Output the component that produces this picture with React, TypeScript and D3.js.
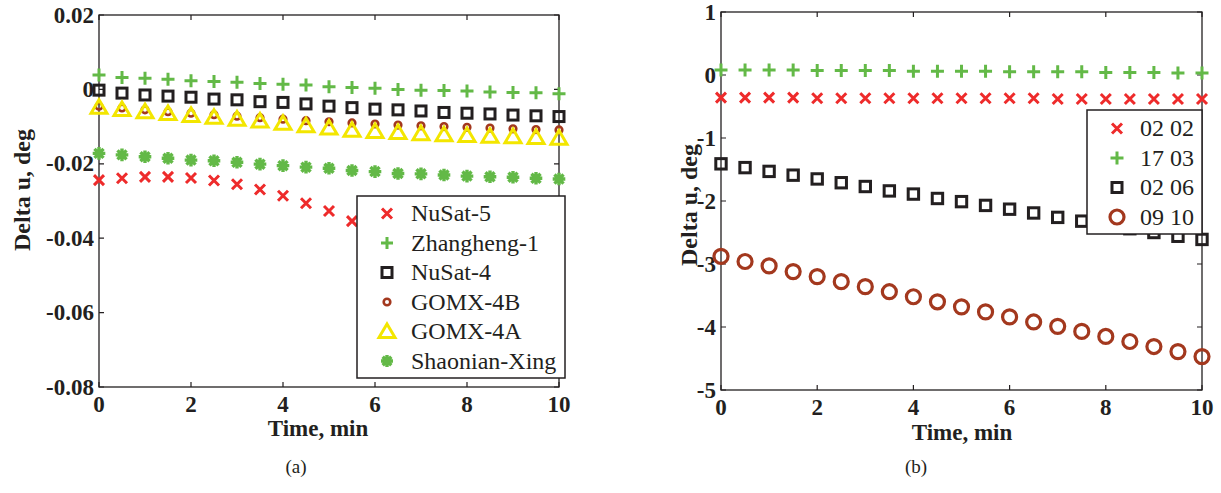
import React, { useEffect, useRef } from 'react';
import * as d3 from 'd3';

// tiempo, min
const time = [0, 0.5, 1, 1.5, 2, 2.5, 3, 3.5, 4, 4.5, 5, 5.5, 6, 6.5, 7, 7.5, 8, 8.5, 9, 9.5, 10];

// (a) Delta u, deg
const nusat5 = [-0.0244, -0.0239, -0.0235, -0.0235, -0.0238, -0.0245, -0.0255, -0.0269, -0.0286, -0.0306, -0.0327, -0.0354, -0.038, -0.041, -0.044, -0.047, -0.05, -0.053, -0.056, -0.059, -0.062];
const zhangheng1 = [0.0039, 0.0032, 0.003, 0.0027, 0.0023, 0.0021, 0.0019, 0.0016, 0.0014, 0.0012, 0.0007, 0.0005, 0.0003, 0.0, -0.0002, -0.0003, -0.0004, -0.0007, -0.0008, -0.0009, -0.0012];
const nusat4 = [-0.0002, -0.001, -0.0015, -0.0018, -0.0021, -0.0026, -0.0028, -0.0033, -0.0035, -0.0039, -0.0045, -0.0049, -0.0053, -0.0055, -0.0058, -0.0062, -0.0064, -0.0066, -0.0069, -0.0071, -0.0073];
const gomx4b = [-0.0045, -0.005, -0.0055, -0.006, -0.0064, -0.0068, -0.0072, -0.0076, -0.008, -0.0084, -0.0087, -0.009, -0.0093, -0.0096, -0.0098, -0.01, -0.0102, -0.0104, -0.0106, -0.0108, -0.0109];
const gomx4a = [-0.0048, -0.0054, -0.006, -0.0065, -0.007, -0.0075, -0.008, -0.0085, -0.0091, -0.0098, -0.0104, -0.011, -0.0113, -0.0116, -0.0119, -0.0122, -0.0124, -0.0126, -0.0127, -0.0129, -0.0131];
const shaonian = [-0.0172, -0.0176, -0.0181, -0.0185, -0.019, -0.0192, -0.0196, -0.0201, -0.0205, -0.0209, -0.0212, -0.0218, -0.0221, -0.0226, -0.0227, -0.023, -0.0233, -0.0235, -0.0236, -0.0239, -0.0241];

// (b) Delta u, deg
const d0202 = [-0.36, -0.36, -0.36, -0.36, -0.37, -0.37, -0.37, -0.37, -0.37, -0.37, -0.37, -0.37, -0.37, -0.37, -0.38, -0.38, -0.38, -0.38, -0.38, -0.38, -0.38];
const d1703 = [0.08, 0.08, 0.08, 0.08, 0.07, 0.07, 0.07, 0.07, 0.06, 0.06, 0.06, 0.06, 0.05, 0.05, 0.05, 0.05, 0.04, 0.04, 0.04, 0.03, 0.03];
const d0206 = [-1.41, -1.47, -1.53, -1.59, -1.65, -1.71, -1.77, -1.84, -1.89, -1.96, -2.01, -2.07, -2.13, -2.19, -2.26, -2.32, -2.38, -2.44, -2.5, -2.56, -2.61];
const d0910 = [-2.88, -2.96, -3.03, -3.12, -3.2, -3.28, -3.36, -3.44, -3.52, -3.6, -3.68, -3.76, -3.84, -3.92, -3.99, -4.07, -4.15, -4.23, -4.31, -4.39, -4.47];

const xTicks = [0, 2, 4, 6, 8, 10];
const yTicksA = [-0.08, -0.06, -0.04, -0.02, 0, 0.02];
const yTickLabelsA = ['-0.08', '-0.06', '-0.04', '-0.02', '0', '0.02'];
const yTicksB = [-5, -4, -3, -2, -1, 0, 1];
const yTickLabelsB = ['-5', '-4', '-3', '-2', '-1', '0', '1'];

const RED = '#ee2b2b';
const GREEN = '#63b947';
const BLACK = '#231f20';
const BROWN = '#a3381e';
const YELLOW = '#f3e600';

const FONT = '"Liberation Serif", "Times New Roman", serif';

// dibuja un marcador centrado en (0,0)
function marker(g, type, color, s) {
  if (type === 'x') {
    g.append('path').attr('d', `M${-s},${-s}L${s},${s}M${-s},${s}L${s},${-s}`)
      .attr('stroke', color).attr('stroke-width', 3).attr('fill', 'none');
  } else if (type === '+') {
    g.append('path').attr('d', `M${-s},0H${s}M0,${-s}V${s}`)
      .attr('stroke', color).attr('stroke-width', 3).attr('fill', 'none');
  } else if (type === 's') {
    g.append('rect').attr('x', -s).attr('y', -s).attr('width', 2 * s).attr('height', 2 * s)
      .attr('stroke', color).attr('stroke-width', 3).attr('fill', 'none');
  } else if (type === 'o') {
    g.append('circle').attr('r', s).attr('stroke', color).attr('stroke-width', s > 5 ? 3.2 : 2.6).attr('fill', 'none');
  } else if (type === '^') {
    g.append('path').attr('d', `M0,${-s * 0.95}L${s},${s * 0.75}L${-s},${s * 0.75}Z`)
      .attr('stroke', color).attr('stroke-width', 3).attr('fill', 'none').attr('stroke-linejoin', 'miter');
  } else if (type === '*') {
    const d = s * 0.72;
    g.append('path').attr('d', `M${-s},0H${s}M0,${-s}V${s}M${-d},${-d}L${d},${d}M${-d},${d}L${d},${-d}`)
      .attr('stroke', color).attr('stroke-width', 3.4).attr('fill', 'none');
    g.append('circle').attr('r', s * 0.55).attr('fill', color);
  }
}

function drawPanel(svg, opts) {
  const { x, y, xTicks, yTicks, yLabels, series, legend, caption } = opts;
  const [x0, x1] = x.range();
  const [y0, y1] = y.range(); // y0 abajo, y1 arriba
  const tl = 5;

  const axes = svg.append('g');
  axes.append('rect')
    .attr('x', x0).attr('y', y1).attr('width', x1 - x0).attr('height', y0 - y1)
    .attr('fill', 'none').attr('stroke', BLACK).attr('stroke-width', 1.3);

  xTicks.forEach(t => {
    axes.append('path').attr('d', `M${x(t)},${y0}V${y0 - tl}M${x(t)},${y1}V${y1 + tl}`)
      .attr('stroke', BLACK).attr('stroke-width', 1.2);
    axes.append('text').attr('x', x(t)).attr('y', y0 + 25)
      .attr('text-anchor', 'middle').attr('font-family', FONT).attr('font-weight', 'bold')
      .attr('font-size', 23).attr('fill', BLACK).text(t);
  });
  yTicks.forEach((t, i) => {
    axes.append('path').attr('d', `M${x0},${y(t)}H${x0 + tl}M${x1},${y(t)}H${x1 - tl}`)
      .attr('stroke', BLACK).attr('stroke-width', 1.2);
    axes.append('text').attr('x', x0 - 5).attr('y', y(t)).attr('dy', '0.33em')
      .attr('text-anchor', 'end').attr('font-family', FONT).attr('font-weight', 'bold')
      .attr('font-size', 23).attr('fill', BLACK).text(yLabels[i]);
  });

  // series
  series.forEach(s => {
    const g = svg.append('g');
    s.values.forEach((v, i) => {
      const m = g.append('g').attr('transform', `translate(${x(time[i])},${y(v)})`);
      marker(m, s.type, s.color, s.size);
    });
  });

  // titulos
  svg.append('text')
    .attr('x', opts.xLabelX).attr('y', y0 + opts.xLabelDy)
    .attr('text-anchor', 'middle').attr('font-family', FONT).attr('font-weight', 'bold')
    .attr('font-size', 23).attr('fill', BLACK).text('Time, min');

  svg.append('text')
    .attr('transform', `translate(${opts.yLabelX},${opts.yLabelY}) rotate(-90)`)
    .attr('text-anchor', 'middle').attr('font-family', FONT).attr('font-weight', 'bold')
    .attr('font-size', 24).attr('fill', BLACK).text('Delta u, deg');

  // leyenda
  const lg = svg.append('g');
  lg.append('rect')
    .attr('x', legend.x).attr('y', legend.y).attr('width', legend.w).attr('height', legend.h)
    .attr('fill', 'white').attr('stroke', BLACK).attr('stroke-width', 1.5);
  legend.items.forEach((it, i) => {
    const cy = legend.y + legend.first + i * legend.step;
    const m = lg.append('g').attr('transform', `translate(${legend.mx},${cy})`);
    marker(m, it.type, it.color, it.lsize);
    lg.append('text').attr('x', legend.tx).attr('y', cy).attr('dy', '0.33em')
      .attr('font-family', FONT).attr('font-size', 24).attr('fill', BLACK).text(it.name);
  });

  svg.append('text')
    .attr('x', caption.x).attr('y', caption.y)
    .attr('text-anchor', 'middle').attr('font-family', FONT)
    .attr('font-size', 19).attr('fill', BLACK).text(caption.text);
}

const App = () => {
  const ref = useRef(null);

  useEffect(() => {
    const svg = d3.select(ref.current);
    svg.selectAll('*').remove();

    const xA = d3.scaleLinear().domain([0, 10]).range([99, 559]);
    const yA = d3.scaleLinear().domain([-0.08, 0.02]).range([387, 15]);

    const seriesA = [
      { name: 'NuSat-5', values: nusat5, type: 'x', color: RED, size: 5, lsize: 5 },
      { name: 'Zhangheng-1', values: zhangheng1, type: '+', color: GREEN, size: 6.5, lsize: 6 },
      { name: 'NuSat-4', values: nusat4, type: 's', color: BLACK, size: 5, lsize: 5 },
      { name: 'GOMX-4B', values: gomx4b, type: 'o', color: BROWN, size: 3.3, lsize: 3.3 },
      { name: 'GOMX-4A', values: gomx4a, type: '^', color: YELLOW, size: 8, lsize: 8 },
      { name: 'Shaonian-Xing', values: shaonian, type: '*', color: GREEN, size: 6.3, lsize: 6 },
    ];

    drawPanel(svg, {
      x: xA, y: yA, xTicks, yTicks: yTicksA, yLabels: yTickLabelsA,
      series: seriesA, yLabelX: 30, yLabelY: 190, xLabelX: 318, xLabelDy: 49,
      legend: { x: 357, y: 196, w: 208, h: 182, first: 17.5, step: 29.5, mx: 387, tx: 411, items: seriesA },
      caption: { x: 296, y: 473, text: '(a)' },
    });

    const xB = d3.scaleLinear().domain([0, 10]).range([721, 1202]);
    const yB = d3.scaleLinear().domain([-5, 1]).range([390, 12]);

    const seriesB = [
      { name: '02 02', values: d0202, type: 'x', color: RED, size: 5, lsize: 5 },
      { name: '17 03', values: d1703, type: '+', color: GREEN, size: 6.5, lsize: 6.5 },
      { name: '02 06', values: d0206, type: 's', color: BLACK, size: 5.2, lsize: 5 },
      { name: '09 10', values: d0910, type: 'o', color: BROWN, size: 7, lsize: 7 },
    ];

    drawPanel(svg, {
      x: xB, y: yB, xTicks, yTicks: yTicksB, yLabels: yTickLabelsB,
      series: seriesB, yLabelX: 697, yLabelY: 205, xLabelX: 962, xLabelDy: 50,
      legend: { x: 1087, y: 110, w: 115, h: 124, first: 18.5, step: 29.5, mx: 1117, tx: 1140, items: seriesB },
      caption: { x: 916, y: 473, text: '(b)' },
    });
  }, []);

  return (
    <svg ref={ref} width={1221} height={493}
      style={{ position: 'absolute', left: 0, top: 0, background: 'white' }} />
  );
};

export default App;
